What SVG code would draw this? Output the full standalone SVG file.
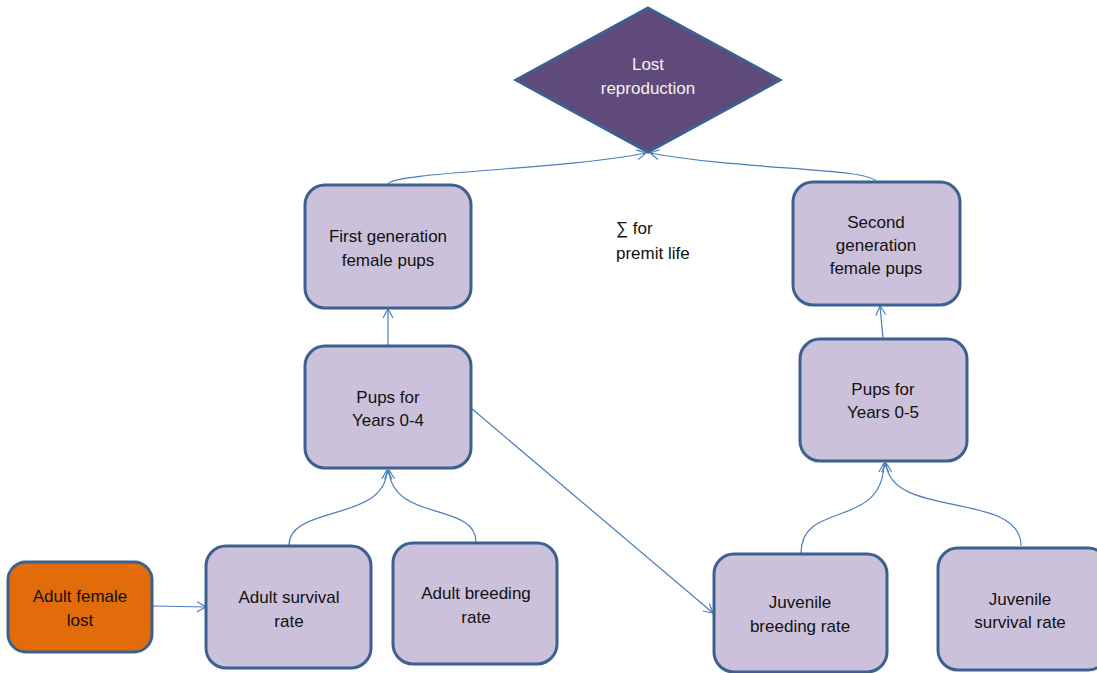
<svg xmlns="http://www.w3.org/2000/svg" width="1097" height="673" viewBox="0 0 1097 673">
  <defs>
    <marker id="arrow" markerWidth="12" markerHeight="12" refX="10" refY="6" orient="auto" markerUnits="userSpaceOnUse">
      <path d="M1,1 L10,6 L1,11" fill="none" stroke="#4a7ebb" stroke-width="1.2"/>
    </marker>
  </defs>
  <style>
    .box { fill: #ccc1da; stroke: #3c6190; stroke-width: 3; }
    .start { fill: #e36c0a; stroke: #3c6190; stroke-width: 3; }
    .goal { fill: #604a7b; stroke: #3c6190; stroke-width: 3; }
    .lbl { font-family: "Liberation Sans", Arial, sans-serif; font-size: 17px; fill: #111; text-anchor: middle; }
    .lbl-w { font-family: "Liberation Sans", Arial, sans-serif; font-size: 17px; fill: #f2f2f2; text-anchor: middle; }
    .free { font-family: "Liberation Sans", Arial, sans-serif; font-size: 17px; fill: #111; }
    .conn { fill: none; stroke: #4a7ebb; stroke-width: 1.2; }
  </style>
  <rect width="1097" height="673" fill="#ffffff"/>

  <g id="connectors">
    <path class="conn" d="M388,184 C392,172 560,170 646,153" marker-end="url(#arrow)"/>
    <path class="conn" d="M876,182 C874,168 740,170 650,153" marker-end="url(#arrow)"/>
    <path class="conn" d="M388,346 L388,309" marker-end="url(#arrow)"/>
    <path class="conn" d="M883,338 L880,306" marker-end="url(#arrow)"/>
    <path class="conn" d="M289,545 C289,505 386,522 387,470" marker-end="url(#arrow)"/>
    <path class="conn" d="M476,542 C476,502 392,522 389,470" marker-end="url(#arrow)"/>
    <path class="conn" d="M152,606 L206,607" marker-end="url(#arrow)"/>
    <path class="conn" d="M471,408 L713,613" marker-end="url(#arrow)"/>
    <path class="conn" d="M801,553 C801,500 883,530 884,463" marker-end="url(#arrow)"/>
    <path class="conn" d="M1021,546 C1021,490 890,520 886,463" marker-end="url(#arrow)"/>
  </g>

  <g id="lost-reproduction">
    <polygon class="goal" points="648,8 780,80 648,152 516,80"/>
    <text class="lbl-w" x="648" y="70">Lost</text>
    <text class="lbl-w" x="648" y="94">reproduction</text>
  </g>

  <g id="sum-note">
    <text class="free" x="616" y="234">∑ for</text>
    <text class="free" x="616" y="259">premit life</text>
  </g>

  <g id="first-generation">
    <rect class="box" x="305" y="185" width="166" height="123" rx="20"/>
    <text class="lbl" x="388" y="242">First generation</text>
    <text class="lbl" x="388" y="266">female pups</text>
  </g>

  <g id="second-generation">
    <rect class="box" x="793" y="182" width="167" height="123" rx="20"/>
    <text class="lbl" x="876" y="228">Second</text>
    <text class="lbl" x="876" y="251">generation</text>
    <text class="lbl" x="876" y="274">female pups</text>
  </g>

  <g id="pups-0-4">
    <rect class="box" x="305" y="346" width="166" height="122" rx="20"/>
    <text class="lbl" x="388" y="403">Pups for</text>
    <text class="lbl" x="388" y="426">Years 0-4</text>
  </g>

  <g id="pups-0-5">
    <rect class="box" x="800" y="339" width="167" height="122" rx="20"/>
    <text class="lbl" x="883" y="395">Pups for</text>
    <text class="lbl" x="883" y="418">Years 0-5</text>
  </g>

  <g id="adult-female-lost">
    <rect class="start" x="8" y="562" width="144" height="90" rx="18"/>
    <text class="lbl" x="80" y="602">Adult female</text>
    <text class="lbl" x="80" y="626">lost</text>
  </g>

  <g id="adult-survival">
    <rect class="box" x="206" y="546" width="165" height="122" rx="20"/>
    <text class="lbl" x="289" y="603">Adult survival</text>
    <text class="lbl" x="289" y="627">rate</text>
  </g>

  <g id="adult-breeding">
    <rect class="box" x="393" y="543" width="164" height="121" rx="20"/>
    <text class="lbl" x="476" y="599">Adult breeding</text>
    <text class="lbl" x="476" y="623">rate</text>
  </g>

  <g id="juvenile-breeding">
    <rect class="box" x="714" y="554" width="173" height="118" rx="20"/>
    <text class="lbl" x="800" y="608">Juvenile</text>
    <text class="lbl" x="800" y="632">breeding rate</text>
  </g>

  <g id="juvenile-survival">
    <rect class="box" x="938" y="548" width="170" height="122" rx="20"/>
    <text class="lbl" x="1020" y="605">Juvenile</text>
    <text class="lbl" x="1020" y="628">survival rate</text>
  </g>
</svg>
